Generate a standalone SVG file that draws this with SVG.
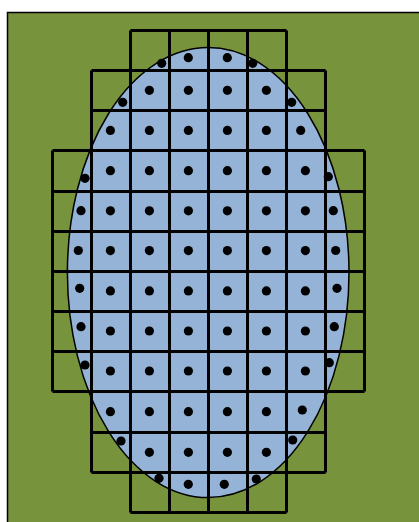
<svg xmlns="http://www.w3.org/2000/svg" width="419" height="522" viewBox="0 0 419 522">
<style>
.bg{fill:#77933C;stroke:#000;stroke-width:1.5}
.el{fill:#95B3D7;stroke:#000;stroke-width:1.5}
.cell{fill:none;stroke:#000;stroke-width:3}
.dot{fill:#000}
</style>
<defs><circle id="d" r="4.6" class="dot"/></defs>
<rect width="419" height="522" fill="#fff"/>
<g id="background"><rect class="bg" x="7.5" y="12.5" width="420" height="520"/></g>
<g id="ellipse"><ellipse class="el" cx="208.2" cy="272.6" rx="140.8" ry="225"/></g>
<g id="grid">
<path class="cell" d="M130.5 30.5H286.5M91.5 70.5H325.5M91.5 110.5H325.5M52.5 150.5H364.5M52.5 191.5H364.5M52.5 231.5H364.5M52.5 271.5H364.5M52.5 311.5H364.5M52.5 351.5H364.5M52.5 391.5H364.5M91.5 432.5H325.5M91.5 472.5H325.5M130.5 512.5H286.5"/>
<path class="cell" d="M52.5 150.5V391.5M364.5 150.5V391.5M91.5 70.5V472.5M325.5 70.5V472.5M130.5 30.5V512.5M169.5 30.5V512.5M208.5 30.5V512.5M247.5 30.5V512.5M286.5 30.5V512.5"/>
</g>
<g id="dots">
<use href="#d" x="161.7" y="63.3"/><use href="#d" x="188.3" y="57.7"/><use href="#d" x="227.3" y="57.7"/><use href="#d" x="252.7" y="63.3"/>
<use href="#d" x="122.7" y="102.3"/><use href="#d" x="149.4" y="90.3"/><use href="#d" x="188.4" y="90.3"/><use href="#d" x="227.4" y="90.3"/><use href="#d" x="266.4" y="90.3"/><use href="#d" x="291.7" y="102.3"/>
<use href="#d" x="110.4" y="130.4"/><use href="#d" x="149.4" y="130.4"/><use href="#d" x="188.4" y="130.4"/><use href="#d" x="227.4" y="130.4"/><use href="#d" x="266.4" y="130.4"/><use href="#d" x="300.7" y="130.4"/>
<use href="#d" x="85" y="178.3"/><use href="#d" x="110.4" y="170.7"/><use href="#d" x="149.4" y="170.7"/><use href="#d" x="188.4" y="170.7"/><use href="#d" x="227.4" y="170.7"/><use href="#d" x="266.4" y="170.7"/><use href="#d" x="305.4" y="170.7"/><use href="#d" x="328.3" y="176.7"/>
<use href="#d" x="81" y="210.7"/><use href="#d" x="110.4" y="210.8"/><use href="#d" x="149.4" y="210.8"/><use href="#d" x="188.4" y="210.8"/><use href="#d" x="227.4" y="210.8"/><use href="#d" x="266.4" y="210.8"/><use href="#d" x="305.4" y="210.8"/><use href="#d" x="333.3" y="210.7"/>
<use href="#d" x="78.3" y="250.5"/><use href="#d" x="110.4" y="250.6"/><use href="#d" x="149.4" y="250.6"/><use href="#d" x="188.4" y="250.6"/><use href="#d" x="227.4" y="250.6"/><use href="#d" x="266.4" y="250.6"/><use href="#d" x="305.4" y="250.6"/><use href="#d" x="335.7" y="250.5"/>
<use href="#d" x="79.7" y="288.3"/><use href="#d" x="110.4" y="290.9"/><use href="#d" x="149.4" y="290.9"/><use href="#d" x="188.4" y="290.9"/><use href="#d" x="227.4" y="290.9"/><use href="#d" x="266.4" y="290.9"/><use href="#d" x="305.4" y="290.9"/><use href="#d" x="337" y="288.3"/>
<use href="#d" x="81" y="326.7"/><use href="#d" x="110.4" y="331"/><use href="#d" x="149.4" y="331"/><use href="#d" x="188.4" y="331"/><use href="#d" x="227.4" y="331"/><use href="#d" x="266.4" y="331"/><use href="#d" x="305.4" y="331"/><use href="#d" x="334.3" y="326.7"/>
<use href="#d" x="85" y="365"/><use href="#d" x="110.4" y="371"/><use href="#d" x="149.4" y="371"/><use href="#d" x="188.4" y="371"/><use href="#d" x="227.4" y="371"/><use href="#d" x="266.4" y="371"/><use href="#d" x="305.4" y="371"/><use href="#d" x="329.3" y="362.7"/>
<use href="#d" x="110.4" y="411.7"/><use href="#d" x="149.4" y="411.7"/><use href="#d" x="188.4" y="411.7"/><use href="#d" x="227.4" y="411.7"/><use href="#d" x="266.4" y="411.7"/><use href="#d" x="302.3" y="410"/>
<use href="#d" x="121" y="441"/><use href="#d" x="149.4" y="452.3"/><use href="#d" x="188.4" y="452.3"/><use href="#d" x="227.4" y="452.3"/><use href="#d" x="266.4" y="452.3"/><use href="#d" x="292.7" y="440"/>
<use href="#d" x="159" y="478.3"/><use href="#d" x="188.3" y="484.3"/><use href="#d" x="224.3" y="484.3"/><use href="#d" x="256.3" y="479"/>
</g>
</svg>
